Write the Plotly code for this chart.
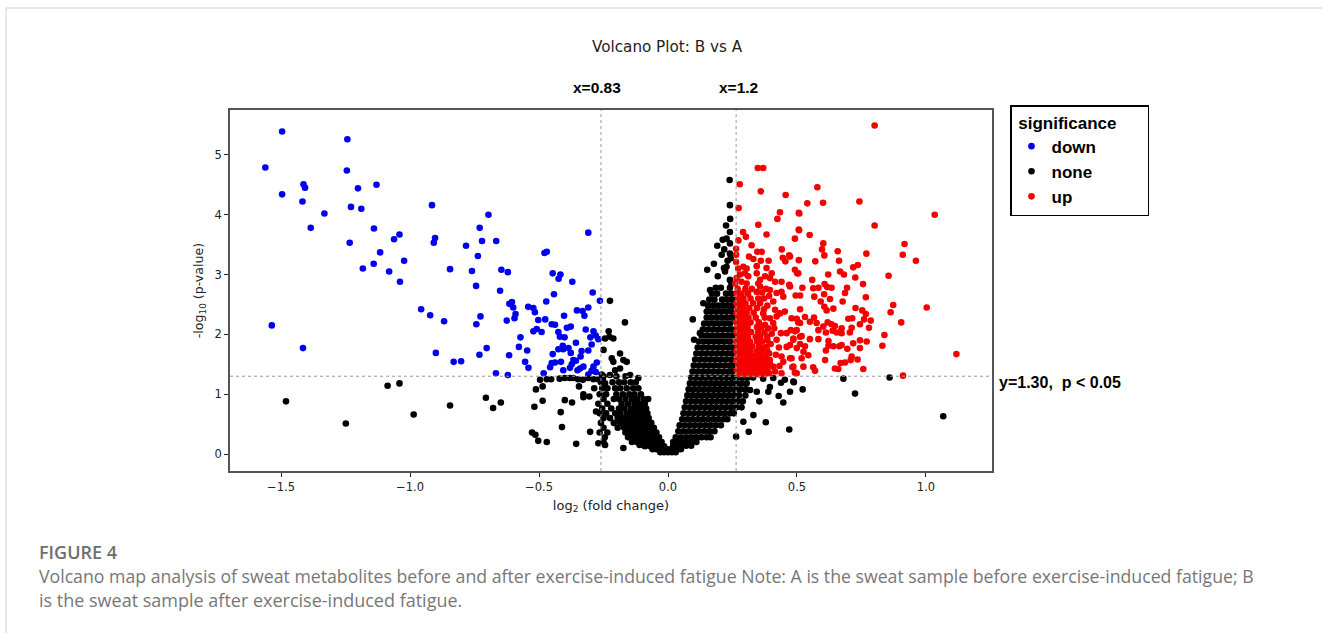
import plotly.graph_objects as go

TITLE = "Volcano Plot: B vs A"
X_TICKS = [-1.5, -1.0, -0.5, 0.0, 0.5, 1.0]
Y_TICKS = [0, 1, 2, 3, 4, 5]
X_CUTS = [-0.26, 0.264]
Y_CUT = 1.30

down_points = [
(-1.496,5.39),(-1.243,5.26),(-1.561,4.79),(-1.245,4.74),(-1.413,4.51),(-1.407,4.45),(-1.202,4.44),(-1.130,4.50),
(-1.496,4.34),(-1.417,4.22),(-1.229,4.13),(-1.189,4.10),(-0.915,4.16),(-1.332,4.02),(-0.696,4.00),(-1.385,3.78),
(-1.140,3.77),(-0.730,3.78),(-0.309,3.70),(-1.041,3.67),(-1.062,3.59),(-1.234,3.53),(-0.903,3.61),(-0.908,3.53),
(-0.783,3.48),(-0.721,3.56),(-0.666,3.56),(-0.737,3.31),(-0.470,3.38),(-0.479,3.36),(-1.116,3.37),(-1.141,3.18),
(-1.023,3.23),(-1.183,3.10),(-1.081,3.05),(-1.039,2.88),(-0.845,3.09),(-0.760,3.06),(-0.646,3.08),(-0.621,3.04),
(-0.447,3.02),(-0.417,3.00),(-0.424,2.93),(-0.371,2.88),(-0.744,2.81),(-0.651,2.73),(-0.442,2.67),(-0.292,2.70),
(-0.472,2.55),(-0.264,2.56),(-0.615,2.51),(-0.605,2.54),(-0.600,2.45),(-0.542,2.46),(-0.522,2.44),(-0.516,2.37),
(-0.591,2.34),(-0.595,2.27),(-0.309,2.45),(-0.331,2.39),(-0.353,2.40),(-0.324,2.31),(-0.403,2.31),(-0.957,2.42),
(-0.922,2.32),(-0.868,2.22),(-0.727,2.30),(-0.743,2.17),(-0.625,2.23),(-0.476,2.25),(-0.503,2.24),(-0.451,2.17),
(-0.438,2.16),(-0.392,2.11),(-0.377,2.13),(-0.509,2.09),(-0.522,2.05),(-0.490,2.04),(-0.425,2.04),(-0.319,2.08),
(-0.289,2.05),(-0.419,1.96),(-0.401,1.95),(-0.572,1.95),(-0.301,1.95),(-0.280,1.98),(-0.270,1.92),(-0.357,1.86),
(-0.296,1.83),(-0.578,1.79),(-0.546,1.73),(-0.703,1.77),(-1.536,2.15),(-1.415,1.77),(-0.900,1.69),(-0.731,1.66),
(-0.616,1.65),(-0.831,1.54),(-0.802,1.55),(-0.554,1.54),(-0.541,1.44),(-0.667,1.35),(-0.621,1.32),(-0.482,1.35),
(-0.447,1.67),(-0.425,1.75),(-0.408,1.81),(-0.406,1.75),(-0.386,1.77),(-0.377,1.69),(-0.335,1.72),(-0.339,1.63),
(-0.309,1.73),(-0.451,1.52),(-0.457,1.45),(-0.438,1.53),(-0.415,1.54),(-0.367,1.57),(-0.357,1.56),(-0.373,1.50),
(-0.380,1.44),(-0.406,1.40),(-0.328,1.46),(-0.341,1.43),(-0.351,1.40),(-0.276,1.53),(-0.289,1.46),(-0.296,1.39),
(-0.280,1.37),(-0.309,1.33),
]

none_points = [
(-1.481,0.88),(-1.087,1.14),(-1.041,1.18),(-1.249,0.51),(-0.986,0.66),(-0.845,0.81),(-0.706,0.94),(-0.678,0.77),
(-0.648,0.86),(-0.496,1.24),(-0.470,1.25),(-0.453,1.25),(-0.512,1.08),(-0.486,1.13),(-0.486,0.89),(-0.518,0.79),
(-0.400,0.90),(-0.372,0.86),(-0.416,0.70),(-0.411,0.45),(-0.527,0.36),(-0.514,0.32),(-0.503,0.22),(-0.470,0.20),
(-0.356,0.17),(-0.302,0.37),(-0.270,0.18),(-0.244,0.15),(-0.279,0.71),(-0.328,1.00),(-0.305,0.96),(-0.328,0.95),
(-0.345,1.13),(-0.286,1.10),(-0.420,1.26),(-0.400,1.27),(-0.381,1.27),(-0.368,1.27),(-0.349,1.25),(-0.330,1.24),
(-0.309,1.27),(-0.289,1.25),(-0.270,1.25),(-0.253,1.25),(-0.257,1.33),
(-0.225,2.56),(-0.167,2.20),(-0.230,2.05),(-0.244,1.93),(-0.227,1.96),(-0.212,1.93),(-0.250,1.74),(-0.218,1.60),
(-0.186,1.68),(-0.173,1.57),(-0.212,1.54),(-0.160,1.54),(-0.205,1.40),(-0.186,1.43),(-0.225,1.32),(-0.147,1.32),
(-0.115,1.27),(-0.244,1.18),(-0.173,0.10),(-0.110,0.15),
(0.379,0.53),(0.313,0.37),(0.470,0.41),(0.264,0.29),(0.331,0.65),(0.292,0.54),(0.447,0.86),(0.429,0.97),
(0.486,1.21),(0.438,1.19),(0.453,1.24),(0.395,1.12),(0.389,1.04),(0.354,0.88),(0.318,1.07),(0.344,1.04),
(0.369,1.26),(0.408,1.27),(0.488,1.20),(0.522,1.08),(0.680,1.26),(0.725,1.01),(0.859,1.28),(1.067,0.63),(0.473,1.04),
(0.239,4.58),(0.240,4.16),(0.241,3.93),(0.225,3.82),(0.240,3.71),(0.212,3.58),(0.227,3.60),(0.240,3.52),
(0.191,3.48),(0.218,3.42),(0.208,3.33),(0.240,3.35),(0.231,3.23),(0.243,3.27),(0.178,3.18),(0.152,3.08),
(0.217,3.11),(0.227,3.13),(0.221,3.05),(0.193,2.97),(0.240,2.91),(0.246,2.85),
(0.096,2.25),(0.101,1.91),(0.124,2.02),(0.163,2.74),(0.137,2.52),
]

none_left_rows = {
1.30:[-.25,-.20,-.165],
1.20:[-.26,-.215,-.19,-.17,-.145,-.125],
1.10:[-.255,-.235,-.205,-.185,-.16,-.135,-.115],
1.00:[-.265,-.24,-.2,-.175,-.15,-.13,-.105],
0.92:[-.25,-.21,-.19,-.165,-.14,-.12,-.095,-.077],
0.84:[-.27,-.235,-.18,-.155,-.13,-.11,-.09],
0.76:[-.255,-.22,-.19,-.17,-.145,-.125,-.105,-.085],
0.68:[-.265,-.24,-.205,-.185,-.16,-.14,-.12,-.1,-.08],
0.60:[-.25,-.225,-.195,-.175,-.155,-.135,-.115,-.095,-.075],
0.52:[-.26,-.21,-.185,-.165,-.145,-.125,-.105,-.085,-.065],
0.44:[-.25,-.195,-.17,-.15,-.13,-.11,-.09,-.07,-.055],
0.36:[-.265,-.235,-.165,-.145,-.125,-.105,-.085,-.065,-.045],
0.28:[-.245,-.155,-.135,-.115,-.095,-.075,-.055,-.035],
0.20:[-.25,-.14,-.12,-.1,-.08,-.06,-.04,-.025],
0.13:[-.09,-.07,-.05,-.03,-.015],
0.08:[-.06,-.045,-.03,-.015,.0,.015],
0.03:[-.03,-.015,.0,.015,.03],
}

none_right_rows = {
0.08:[.03,.05],
0.14:[.02,.035,.05,.07,.09],
0.20:[.02,.035,.05,.07,.09,.11],
0.28:[.03,.05,.07,.09,.11,.13,.15,.165],
0.38:[.04,.06,.08,.10,.12,.14,.16,.18],
0.48:[.045,.065,.085,.105,.125,.145,.165,.185,.205],
0.58:[.055,.075,.095,.115,.135,.155,.175,.195,.215,.23],
0.68:[.06,.08,.10,.12,.14,.16,.18,.20,.22,.24,.255],
0.78:[.065,.085,.105,.125,.145,.165,.185,.205,.225,.245,.265,.285],
0.88:[.07,.09,.11,.13,.15,.17,.19,.21,.23,.25,.27,.29],
0.98:[.075,.095,.115,.135,.155,.175,.195,.215,.235,.255,.275,.30],
1.08:[.08,.10,.12,.14,.16,.18,.20,.22,.24,.26,.28,.30],
1.18:[.085,.105,.125,.145,.165,.185,.205,.225,.245,.265,.285,.305],
1.28:[.09,.11,.13,.15,.17,.19,.21,.23,.25,.27,.29,.31,.33],
1.38:[.095,.115,.135,.155,.175,.195,.215,.235,.25],
1.48:[.10,.12,.14,.16,.18,.20,.22,.24,.25],
1.58:[.105,.125,.145,.165,.185,.205,.225,.245],
1.68:[.11,.13,.15,.17,.19,.21,.23,.25],
1.78:[.115,.135,.155,.175,.195,.215,.235,.25],
1.88:[.12,.14,.16,.18,.20,.22,.24],
1.98:[.13,.15,.17,.19,.21,.23,.25],
2.08:[.135,.155,.175,.195,.215,.235,.25],
2.18:[.14,.16,.18,.20,.22,.24],
2.28:[.15,.17,.19,.21,.23,.25],
2.38:[.15,.165,.185,.205,.225,.245],
2.48:[.155,.175,.195,.215,.235,.25],
2.58:[.16,.18,.21,.23,.25],
2.68:[.17,.19,.225,.245],
2.78:[.185,.205,.24],
}

up_points = [
(0.348,4.78),(0.369,4.78),(0.278,4.51),(0.360,4.39),(0.456,4.33),(0.274,4.11),(0.434,4.04),(0.424,3.93),
(0.507,4.03),(0.350,3.83),(0.507,3.75),(0.291,3.71),(0.302,3.63),(0.382,3.67),(0.492,3.60),(0.273,3.57),
(0.324,3.49),(0.264,3.43),(0.346,3.38),(0.363,3.38),(0.441,3.42),(0.264,3.33),(0.314,3.30),(0.331,3.26),
(0.360,3.23),(0.390,3.23),(0.445,3.28),(0.470,3.32),(0.455,3.22),(0.264,3.21),(0.344,3.14),(0.492,3.08),
(0.382,3.11),(0.402,3.02),(0.272,3.10),(0.292,3.13),(0.305,3.10),(0.279,3.00),(0.298,3.02),(0.311,2.97),
(0.266,2.94),(0.285,2.88),(0.305,2.85),(0.260,2.85),(0.344,3.02),(0.357,2.91),(0.376,2.97),(0.395,2.94),
(0.415,2.88),(0.440,2.88),(0.470,2.83),(0.505,3.02),(0.350,2.85),
(0.801,5.49),(0.579,4.46),(0.540,4.19),(0.601,4.20),(0.742,4.22),(0.509,4.02),(1.034,4.00),(0.801,3.82),
(0.508,3.74),(0.549,3.66),(0.917,3.51),(0.602,3.52),(0.597,3.42),(0.606,3.32),(0.658,3.39),(0.769,3.35),
(0.910,3.33),(0.961,3.23),(0.473,3.30),(0.507,3.24),(0.571,3.22),(0.663,3.23),(0.736,3.16),(0.718,3.12),
(0.501,3.02),(0.667,3.05),(0.682,3.00),(0.621,3.00),(0.726,2.95),(0.855,2.98),(0.559,2.91),(0.756,2.84),
(0.521,2.78),(0.563,2.77),(0.583,2.78),(0.607,2.84),(0.617,2.79),(0.634,2.78),(0.694,2.78),(0.686,2.69),
(0.767,2.62),(0.495,2.65),(0.512,2.65),(0.567,2.63),(0.605,2.67),(0.628,2.59),(0.592,2.55),(0.677,2.55),
(0.873,2.49),(1.003,2.45),(0.863,2.37),(0.606,2.46),(0.615,2.40),(0.641,2.43),(0.727,2.44),(0.753,2.40),
(0.767,2.34),(0.512,2.42),(0.531,2.29),(0.499,2.26),(0.566,2.28),(0.699,2.26),(0.714,2.27),(0.786,2.23),
(0.760,2.25),(0.904,2.20),(0.779,2.11),(0.744,2.17),(0.550,2.21),(0.505,2.20),(0.576,2.19),(0.619,2.20),
(0.634,2.17),(0.647,2.14),(0.602,2.13),(0.583,2.07),(0.612,2.03),(0.638,2.06),(0.654,2.03),(0.673,2.10),
(0.673,2.02),(0.712,2.11),(0.705,2.03),(0.839,1.99),(0.476,2.07),(0.492,2.05),(0.518,1.97),(0.550,1.92),
(0.583,1.92),(0.622,1.89),(0.486,1.93),(0.512,1.84),(0.531,1.80),(0.499,1.77),(0.473,1.82),(0.718,1.85),
(0.744,1.90),(0.770,1.88),(0.641,1.80),(0.664,1.80),(0.673,1.82),(0.695,1.76),(0.744,1.77),(0.831,1.81),
(0.612,1.73),(0.622,1.81),(0.525,1.71),(0.544,1.65),(0.518,1.60),(0.609,1.57),(0.712,1.63),(0.708,1.57),
(0.735,1.58),(0.669,1.52),(0.686,1.53),(0.647,1.43),(0.660,1.42),(0.757,1.42),(0.563,1.45),(0.570,1.39),
(0.525,1.46),(0.479,1.60),(0.482,1.45),(0.492,1.36),(1.118,1.67),(0.911,1.31),
(0.440,1.63),(0.473,1.60),(0.447,1.54),(0.486,1.46),(0.440,1.35),(0.499,1.35),(0.395,1.57),(0.408,1.46),
(0.460,1.79),(0.486,1.91),(0.512,1.96),(0.460,2.02),(0.499,2.07),(0.421,1.91),(0.382,1.79),(0.434,2.35),
(0.453,2.38),(0.421,2.30),(0.479,2.27),(0.512,2.19),(0.357,2.52),(0.408,2.55),(0.447,2.63),(0.421,2.69),
(0.440,2.71),(0.395,2.74),(0.473,2.80),(0.357,2.80),(0.344,2.71),(0.369,2.35),(0.395,2.27),(0.376,2.16),
(0.408,2.19),(0.415,2.41),
(0.392,1.35),(0.385,1.44),(0.395,1.51),(0.378,1.62),(0.392,1.68),(0.372,1.78),(0.398,1.84),(0.385,1.90),
(0.402,2.01),(0.374,2.03),(0.388,2.10),(0.372,2.42),(0.385,2.48),(0.372,2.60),(0.392,2.64),(0.365,2.70),
(0.418,1.66),(0.430,1.78),(0.412,2.10),(0.438,2.02),(0.432,1.47),(0.415,1.38),
]

up_dense_rows = {
1.33:[.275,.295,.315,.335,.355,.375],
1.40:[.268,.285,.305,.325,.345,.365,.385],
1.48:[.272,.292,.312,.332,.352,.372],
1.56:[.265,.282,.302,.322,.342,.362,.380],
1.64:[.270,.290,.310,.328,.350,.368],
1.72:[.265,.282,.300,.320,.345,.362,.385],
1.80:[.270,.288,.308,.326,.352],
1.88:[.264,.280,.298,.318,.345,.365],
1.96:[.272,.290,.310,.340,.358,.385],
2.04:[.265,.282,.302,.322,.350],
2.12:[.270,.288,.308,.345,.362],
2.20:[.264,.280,.298,.320,.352],
2.28:[.272,.292,.312,.340,.375],
2.36:[.266,.284,.305,.332],
2.44:[.270,.290,.315,.345],
2.52:[.265,.280,.300,.330],
2.60:[.272,.292,.320,.350],
2.68:[.266,.285,.310],
2.76:[.270,.300,.325,.380],
}


def expand(rows):
    return [(x, y) for y, xs in rows.items() for x in xs]


all_none = none_points + expand(none_left_rows) + expand(none_right_rows)
all_up = up_points + expand(up_dense_rows)
series = [("down", down_points, "#0000f0"), ("none", all_none, "#000000"), ("up", all_up, "#f50000")]

L, R, T, B = 230, 992, 110, 471
W, H = R - L, B - T


def fx(px):
    return (px - L) / W


def fy(py):
    return (B - py) / H


fig = go.Figure()
for name, pts, color in series:
    fig.add_trace(go.Scatter(
        x=[p[0] for p in pts], y=[p[1] for p in pts], mode="markers", name=name,
        marker=dict(color=color, size=6.6, line=dict(width=0)),
    ))

narrow = "Liberation Sans, sans-serif"
cut_line = dict(color="#9a9a9a", width=1, dash="dot")
shapes = [dict(type="line", xref="x", yref="paper", x0=c, x1=c, y0=0, y1=1, line=cut_line, layer="above") for c in X_CUTS]
shapes.append(dict(type="line", xref="paper", yref="y", x0=0, x1=1, y0=Y_CUT, y1=Y_CUT, line=cut_line, layer="above"))
frame_line = dict(color="#cfcfcf", width=1)
shapes.append(dict(type="line", xref="paper", yref="paper", x0=fx(6), x1=fx(1322), y0=fy(8), y1=fy(8), line=frame_line))
shapes.append(dict(type="line", xref="paper", yref="paper", x0=fx(6), x1=fx(6), y0=fy(8), y1=fy(633), line=frame_line))


def note(text, px, py, size, color="#000", family=narrow, anchor="left", weight=None):
    return dict(text=text, xref="paper", yref="paper", x=fx(px), y=fy(py), showarrow=False,
                xanchor=anchor, yanchor="middle", font=dict(size=size, color=color, family=family, weight=weight))


annotations = [
    note(TITLE, 667, 47, 15.2, "#222", "DejaVu Sans", "center"),
    note("x=0.83", 597, 88, 15.5, weight=700, anchor="center"),
    note("x=1.2", 738, 88, 15.5, weight=700, anchor="center"),
    note("y=1.30,  p &lt; 0.05", 997, 382, 16, weight=700),
    note("FIGURE 4", 37, 552, 18, "#6e6e6e", "Open Sans", weight=600),
    note("Volcano map analysis of sweat metabolites before and after exercise-induced fatigue Note: A is the sweat sample before exercise-induced fatigue; B",
         37, 576, 17.7, "#777", "Open Sans"),
    note("is the sweat sample after exercise-induced fatigue.", 37, 600, 18, "#777", "Open Sans"),
]

axis_common = dict(showgrid=False, zeroline=False, showline=True, mirror=True, linecolor="#555", linewidth=1.5,
                   ticks="outside", ticklen=4, tickcolor="#222",
                   tickfont=dict(family="DejaVu Sans", size=11.5, color="#222"))

fig.update_layout(
    width=1328, height=633, autosize=False,
    margin=dict(l=L, r=1328 - R, t=T, b=633 - B, autoexpand=False),
    plot_bgcolor="white", paper_bgcolor="white",
    xaxis=dict(range=[-1.698, 1.256], tickvals=X_TICKS, tickformat=".1f",
               title=dict(text="log<sub>2</sub> (fold change)", font=dict(family="DejaVu Sans", size=13, color="#222"), standoff=8),
               **axis_common),
    yaxis=dict(range=[-0.284, 5.75], tickvals=Y_TICKS,
               title=dict(text="-log<sub>10</sub> (p-value)", font=dict(family="DejaVu Sans", size=12.6, color="#222"), standoff=8),
               **axis_common),
    legend=dict(x=fx(1010), y=fy(105), xanchor="left", yanchor="top",
                title=dict(text="\u00a0significance\u00a0\u00a0\u00a0\u00a0\u00a0\u00a0",
                           font=dict(family=narrow, size=17, weight=700, color="#000")),
                font=dict(family=narrow, size=17, weight=700, color="#000"),
                bordercolor="#000", borderwidth=1.5, bgcolor="white", itemsizing="trace", itemwidth=30,
                tracegroupgap=0),
    shapes=shapes, annotations=annotations,
)

fig.write_html("out.html", config={"displayModeBar": False}, post_script="document.body.style.margin='0';")
